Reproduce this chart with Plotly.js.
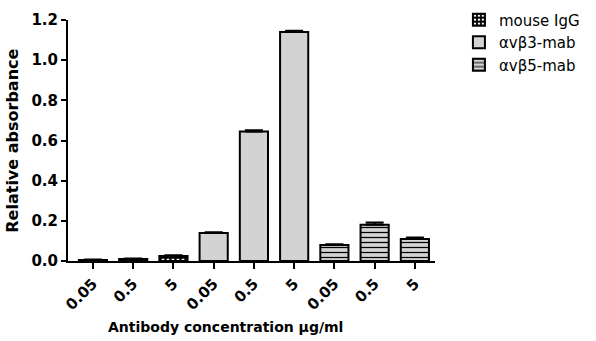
<!DOCTYPE html>
<html><head><meta charset="utf-8">
<script src="https://cdn.plot.ly/plotly-3.0.1.min.js"></script>
<style>html,body{margin:0;padding:0;background:#fff}</style>
</head><body>
<div id="chart" style="width:596px;height:341px"></div>
<script>
const concentrations = ["0.05", "0.5", "5"];
const seriesNames = ["mouse IgG", "\u03b1v\u03b23-mab", "\u03b1v\u03b25-mab"];
const yTickValues = [0, 0.2, 0.4, 0.6, 0.8, 1.0, 1.2];
const xTitle = "Antibody concentration \u03bcg/ml";
const yTitle = "Relative absorbance";
const mouseIgG = [0.005, 0.01, 0.025];
const mouseIgGErr = [0.002, 0.003, 0.004];
const avb3 = [0.14, 0.645, 1.14];
const avb3Err = [0.003, 0.006, 0.007];
const avb5 = [0.08, 0.18, 0.11];
const avb5Err = [0.004, 0.012, 0.007];

const values = [mouseIgG, avb3, avb5];
const errs = [mouseIgGErr, avb3Err, avb5Err];
const patterns = [
  {shape: "+", fgcolor: "#000", bgcolor: "#fff", size: 5, solidity: 0.7, fillmode: "replace"},
  {shape: ""},
  {shape: "-", fgcolor: "#000", bgcolor: "#d3d3d3", size: 5, solidity: 0.25, fillmode: "replace"}
];
const colors = ["#fff", "#d3d3d3", "#d3d3d3"];

const traces = values.map((v, g) => ({
  type: "bar",
  name: seriesNames[g],
  x: concentrations.map((c, i) => g * concentrations.length + i),
  y: v,
  width: 0.7,
  marker: {color: colors[g], line: {color: "#000", width: 2}, pattern: patterns[g]},
  error_y: {type: "data", array: errs[g], visible: true, color: "#000", thickness: 2, width: 9, symmetric: false},
}));
traces.forEach(t => t.error_y.arrayminus = t.y.map(() => 0));

const tickvals = [], ticktext = [];
values.forEach((v, g) => concentrations.forEach((c, i) => { tickvals.push(g * concentrations.length + i); ticktext.push("<b>" + c + "</b>"); }));

const layout = {
  width: 596, height: 341,
  margin: {l: 68, r: 161, t: 20, b: 80},
  paper_bgcolor: "#fff", plot_bgcolor: "#fff",
  font: {family: "DejaVu Sans, Liberation Sans, sans-serif", color: "#000"},
  showlegend: true,
  legend: {xref: "container", yref: "container", x: 0.77, y: 0.99, xanchor: "left", yanchor: "top", font: {size: 15}, traceorder: "normal", itemwidth: 30, tracegroupgap: 0, bgcolor: "rgba(0,0,0,0)"},
  xaxis: {
    range: [-0.62, 8.5], tickvals: tickvals, ticktext: ticktext, tickangle: -45,
    showline: true, linecolor: "#000", linewidth: 2, ticks: "outside", ticklen: 6, tickwidth: 2, tickcolor: "#000",
    showgrid: false, zeroline: false, tickfont: {size: 15}
  },
  yaxis: {
    range: [0, 1.2], tickvals: yTickValues, ticktext: yTickValues.map(v => "<b>" + v.toFixed(1) + "</b>"),
    showline: true, linecolor: "#000", linewidth: 2, ticks: "outside", ticklen: 5, tickwidth: 2, tickcolor: "#000",
    showgrid: false, zeroline: false, tickfont: {size: 15}
  },
  annotations: [{
    text: "<b>" + xTitle + "</b>", xref: "paper", yref: "paper", x: 0.43, y: -0.274,
    xanchor: "center", yanchor: "middle", showarrow: false, font: {size: 14}
  }, {
    text: "<b>" + yTitle + "</b>", xref: "paper", yref: "paper", x: -0.152, y: 0.5,
    xanchor: "center", yanchor: "middle", textangle: -90, showarrow: false, font: {size: 16}
  }]
};
Plotly.newPlot("chart", traces, layout, {displayModeBar: false});
</script>
</body></html>
